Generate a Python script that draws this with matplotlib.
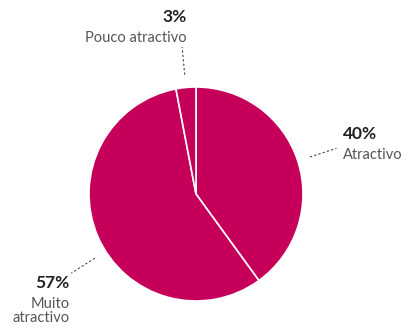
import numpy as np
from matplotlib import pyplot as plt

labels = ['Atractivo', 'Muito\natractivo', 'Pouco atractivo']
values = [40, 57, 3]
pcts = ['40%', '57%', '3%']

color = '#C6005A'
plt.rcParams['font.family'] = ['Lato', 'DejaVu Sans']

fig = plt.figure(figsize=(4.02, 3.28), dpi=100)
W, H = 402, 328
cx, cy, r = 196, 194, 107
ax = fig.add_axes([(cx - r) / W, (H - cy - r) / H, 2 * r / W, 2 * r / H])
ax.pie(values, colors=[color] * 3, startangle=90, counterclock=False,
       wedgeprops=dict(edgecolor='white', linewidth=1.2))
ax.set_xlim(-1, 1)
ax.set_ylim(-1, 1)
ax.set_aspect('equal')
ax.axis('off')

# label layout: angle tweak, text anchor, alignment
ang_adj = [0, 9, 0]
txt_pos = [(1.37, 0.56, 'left'), (-1.18, -0.83, 'right'), (-0.09, 1.65, 'right')]

start = 90
for i, v in enumerate(values):
    mid = start - v * 3.6 / 2 + ang_adj[i]
    start -= v * 3.6
    a = np.deg2rad(mid)
    ax.plot([1.12 * np.cos(a), 1.38 * np.cos(a)], [1.12 * np.sin(a), 1.38 * np.sin(a)],
            color='#444444', linestyle=(0, (2, 2)), linewidth=0.8, clip_on=False)
    tx, ty, ha = txt_pos[i]
    ax.text(tx, ty, pcts[i], ha=ha, va='center', fontsize=12.5, fontweight='bold',
            color='#222222', clip_on=False)
    ax.text(tx, ty - 0.13, labels[i], ha=ha, va='top', fontsize=10.5,
            color='#555555', linespacing=1.05, clip_on=False)

fig.savefig('out.png', dpi=100)
